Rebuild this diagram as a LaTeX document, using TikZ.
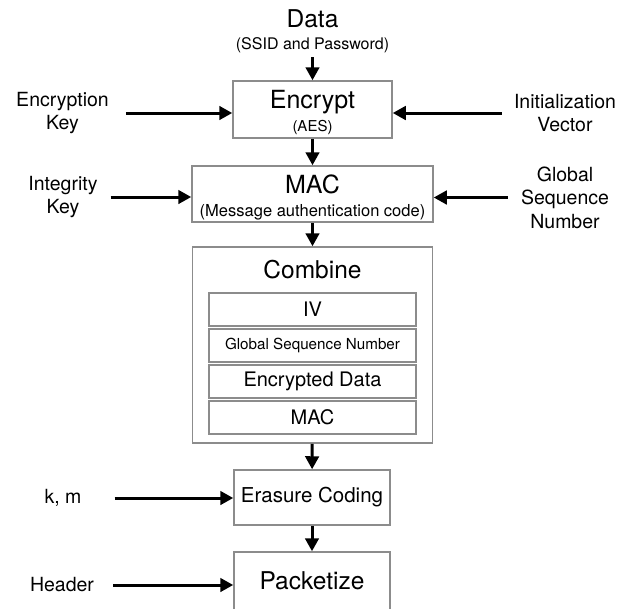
\documentclass[tikz,border=0pt]{standalone}
\usepackage{fontspec}
\setmainfont{TeX Gyre Heros}
\usetikzlibrary{positioning, arrows.meta}
\definecolor{boxgray}{HTML}{8C8C8C}
\newcommand{\capstrut}{\rule{0pt}{25pt}}

\begin{document}
\begin{tikzpicture}[
  x=1pt, y=-1pt,
  procbox/.style={draw=boxgray, line width=1.5pt, align=center, inner sep=0pt, font=\fontsize{25}{23}\selectfont},
  fieldbox/.style={procbox, minimum width=207pt, minimum height=33pt, font=\fontsize{20}{24}\selectfont},
  sidelabel/.style={align=center, inner sep=0pt, font=\fontsize{19.5}{23.5}\selectfont},
  arr/.style={-{Triangle[length=13pt,width=13.5pt]}, line width=3pt, black}
]
\useasboundingbox (0,0) rectangle (629,608);
\clip (0,0) rectangle (629,608);

\node[sidelabel, font=\fontsize{24.5}{22}\selectfont] (data) at (312.5,31) {Data\\{\fontsize{16}{18}\selectfont (SSID and Password)}};
\node[procbox, minimum width=159pt, minimum height=57pt] (encrypt) at (312.5,109.5) {\capstrut Encrypt\\{\fontsize{15}{18}\selectfont (AES)}};
\node[procbox, minimum width=241pt, minimum height=56pt] (mac) at (312.5,194) {\capstrut MAC\\{\fontsize{16.5}{18}\selectfont (Message authentication code)}};

\node[procbox, minimum width=240pt, minimum height=196pt] (combine) at (312.5,345) {};
\node[anchor=base, inner sep=0pt, font=\fontsize{24.5}{28}\selectfont] (combineTitle) at (312.5,278) {Combine};
\node[fieldbox] (ivField) at (312.5,309.5) {IV};
\node[fieldbox, font=\fontsize{15.2}{18}\selectfont] (seqField) at (312.5,345.5) {Global Sequence Number};
\node[fieldbox] (dataField) at (312.5,381.5) {Encrypted Data};
\node[fieldbox] (macField) at (312.5,417.5) {MAC};

\node[procbox, minimum width=156pt, minimum height=55pt, font=\fontsize{20.5}{24}\selectfont] (erasure) at (312,497.5) {Erasure Coding};
\node[procbox, minimum width=156pt, minimum height=58pt, font=\fontsize{24.5}{28}\selectfont] (packetize) at (312,581) {Packetize};

\node[sidelabel] (encKey) at (62.5,113) {Encryption\\Key};
\node[sidelabel] (initVec) at (565,113) {Initialization\\Vector};
\node[sidelabel] (intKey) at (63,197) {Integrity\\Key};
\node[sidelabel] (seqNum) at (565,197.5) {Global\\Sequence\\Number};
\node[sidelabel] (km) at (63,498) {k, m};
\node[sidelabel] (header) at (62,585) {Header};

\draw[arr, shorten <=4.5pt] (data) -- (encrypt);
\draw[arr] (encrypt) -- (mac);
\draw[arr] (mac) -- (combine);
\draw[arr] (combine) -- (erasure);
\draw[arr] (erasure) -- (packetize);

\draw[arr, shorten <=17pt] (encKey) -- (encrypt.west |- encKey);
\draw[arr, shorten <=12pt] (initVec) -- (encrypt.east |- initVec);
\draw[arr, shorten <=13pt] (intKey) -- (mac.west |- intKey);
\draw[arr, shorten <=13pt] (seqNum) -- (mac.east |- seqNum);
\draw[arr, shorten <=33pt] (km) -- (erasure.west |- km);
\draw[arr, shorten <=19pt] (header) -- (packetize.west |- header);

\end{tikzpicture}
\end{document}
